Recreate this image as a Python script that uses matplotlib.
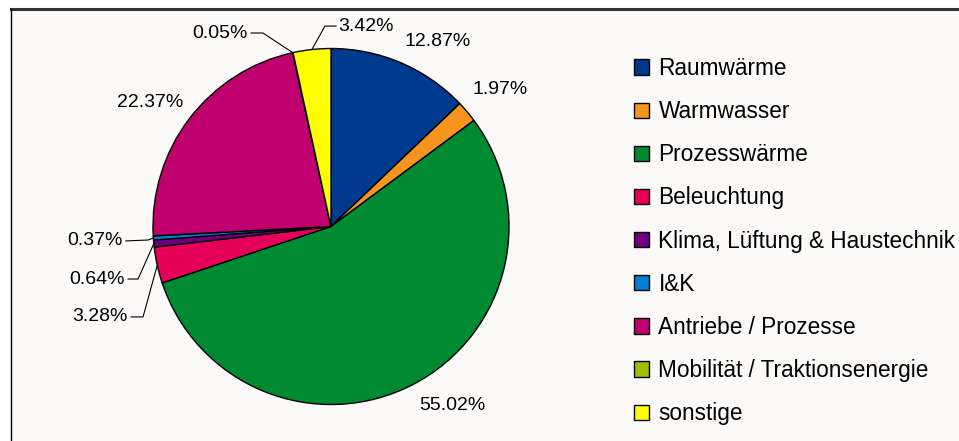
import numpy as np
import matplotlib.pyplot as plt
from matplotlib.patches import Rectangle, Patch
from matplotlib.lines import Line2D

plt.rcParams['font.family'] = ['Liberation Sans', 'DejaVu Sans']

# Anteile am Endenergieverbrauch nach Anwendungszweck (%)
categories = ['Raumwärme', 'Warmwasser', 'Prozesswärme', 'Beleuchtung',
              'Klima, Lüftung & Haustechnik', 'I&K', 'Antriebe / Prozesse',
              'Mobilität / Traktionsenergie', 'sonstige']
shares = [12.87, 1.97, 55.02, 3.28, 0.64, 0.37, 22.37, 0.05, 3.42]
colors = ['#003A8F', '#F7941E', '#008A32', '#E5005A', '#6C0080',
          '#0080D0', '#BF006E', '#9DBF00', '#FFFF00']

W, H = 959, 441
fig = plt.figure(figsize=(W / 100, H / 100), dpi=100)
fig.patch.set_facecolor('white')

# Diagrammfläche mit Rahmen
fig.patches.append(Rectangle((11 / W, 0), 1, (H - 9) / H, transform=fig.transFigure,
                             facecolor='#FBFAF9', edgecolor='none', zorder=-5))
fig.lines.append(Line2D([11 / W, 1], [(H - 9) / H] * 2, transform=fig.transFigure,
                        color='#333333', lw=2.2))
fig.lines.append(Line2D([11 / W] * 2, [0, (H - 9) / H], transform=fig.transFigure,
                        color='black', lw=1.0))

cx, cy, r = 331, 226.5, 178
ax = fig.add_axes([(cx - r) / W, (H - cy - r) / H, 2 * r / W, 2 * r / H])
ax.set_facecolor('none')

wedges, _ = ax.pie(shares, colors=colors, startangle=90, counterclock=False,
                   wedgeprops=dict(edgecolor='black', linewidth=1.0))
ax.set_xlim(-1, 1)
ax.set_ylim(-1, 1)
ax.axis('off')

labels = [f'{v:.2f}%' for v in shares]
fs = 14

# Beschriftungen ohne Führungslinie
plain = {0: (0.601, 1.042), 1: (0.949, 0.767), 2: (0.680, -1.003), 6: (-1.017, 0.694)}
for i, (x, y) in plain.items():
    ax.text(x, y, labels[i], ha='center', va='center', fontsize=fs, clip_on=False)


def mid_point(w):
    a = np.deg2rad((w.theta1 + w.theta2) / 2)
    return np.cos(a), np.sin(a)


# Beschriftungen mit Führungslinie: (Textpunkt, Knick, Ausrichtung)
leaders = {
    7: ((-0.466, 1.087), (-0.382, 1.087), 'right'),
    8: ((0.039, 1.126), (-0.034, 1.126), 'left'),
    5: ((-1.169, -0.081), (-1.028, -0.076), 'right'),
    4: ((-1.157, -0.295), (-1.084, -0.295), 'right'),
    3: ((-1.140, -0.508), (-1.056, -0.508), 'right'),
}
for i, ((tx, ty), (kx, ky), ha) in leaders.items():
    ex, ey = mid_point(wedges[i])
    sx = tx + 0.017 if ha == 'right' else tx - 0.011
    ax.plot([sx, kx, ex], [ty, ky, ey], color='black', lw=0.8, clip_on=False)
    ax.text(tx, ty, labels[i], ha=ha, va='center', fontsize=fs, clip_on=False)

handles = [Patch(facecolor=c, edgecolor='black', linewidth=1.0) for c in colors]
fig.legend(handles, categories, loc='upper left', bbox_to_anchor=(634 / W, 1 - 57 / H),
           frameon=False, fontsize=16.3, handlelength=0.66, handleheight=0.66,
           handletextpad=0.42, labelspacing=0.89, borderpad=0, borderaxespad=0)

fig.savefig('out.png', dpi=100, facecolor='white')
